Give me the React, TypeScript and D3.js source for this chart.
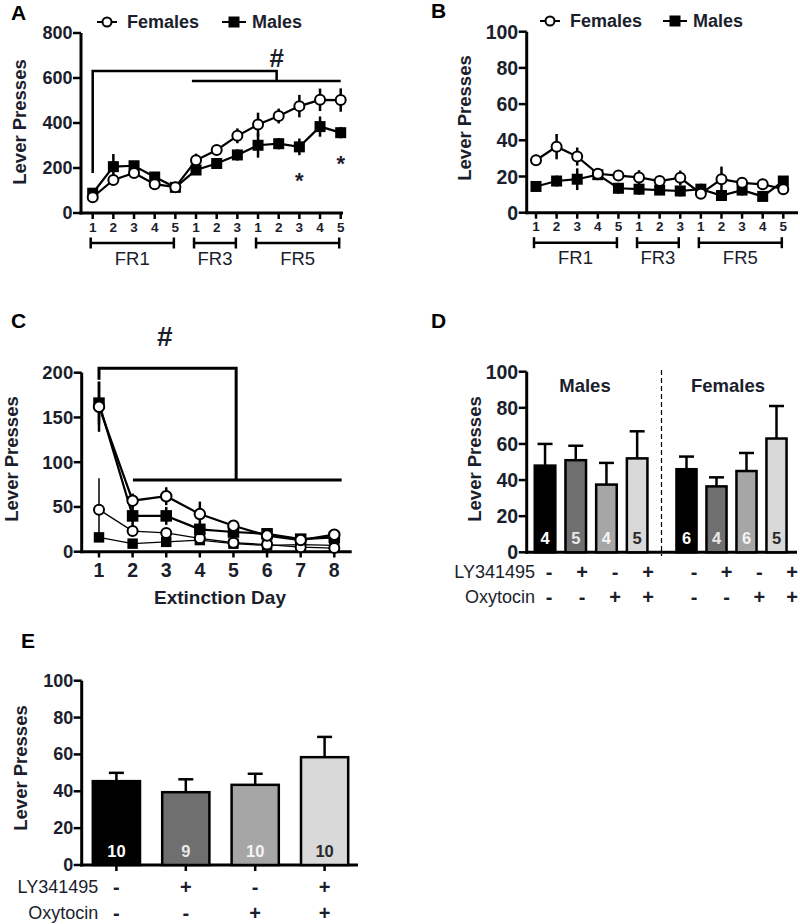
import React from 'react';
import * as d3 from 'd3';

const FONT = '"Liberation Sans", Arial, Helvetica, sans-serif';
const INK = '#1b1e2c';

// ---------- Panel A/B: acquisition sessions ----------
const sessionLabels = ['1', '2', '3', '4', '5', '1', '2', '3', '1', '2', '3', '4', '5'];
const scheduleNames = ['FR1', 'FR3', 'FR5'];
const scheduleFirst = [0, 5, 8];
const scheduleLast = [4, 7, 12];

const activeFemales = [70, 147, 178, 128, 115, 234, 280, 343, 393, 431, 475, 503, 502];
const activeFemalesErr = [15, 15, 20, 15, 12, 30, 20, 33, 53, 33, 50, 50, 52];
const activeMales = [88, 206, 210, 160, 114, 191, 220, 258, 301, 308, 294, 384, 357];
const activeMalesErr = [20, 56, 20, 20, 12, 20, 20, 25, 55, 25, 37, 45, 25];

const inactiveFemales = [29, 36.5, 31, 21.5, 20.5, 19.5, 17.5, 19.3, 10.5, 18.5, 16.5, 15.7, 13];
const inactiveFemalesErr = [3, 7, 5, 3, 2, 4, 2, 4, 2, 7, 3, 3, 3];
const inactiveMales = [14.5, 17.5, 18.5, 21, 13.5, 13, 12.5, 12, 13, 9.5, 12.5, 9, 17.5];
const inactiveMalesErr = [2, 3, 6, 3, 3, 3, 2, 3, 3, 2, 3, 2, 2];

const activeTicks = [0, 200, 400, 600, 800];
const pctTicks = [0, 20, 40, 60, 80, 100];

// ---------- Panel C: extinction ----------
const extinctionDays = [1, 2, 3, 4, 5, 6, 7, 8];
const extFemalesActive = [162, 57, 62, 42, 29, 18, 13, 19];
const extFemalesActiveErr = [28, 8, 10, 14, 5, 3, 3, 3];
const extMalesActive = [166, 40, 40, 25, 22, 20, 14, 16];
const extMalesActiveErr = [24, 12, 10, 6, 4, 3, 3, 3];
const extFemalesInactive = [47, 23, 21, 15, 10, 8, 5, 4];
const extFemalesInactiveErr = [35, 4, 4, 3, 2, 2, 2, 2];
const extMalesInactive = [16, 9, 11, 13, 9, 7, 8, 7];
const extMalesInactiveErr = [2, 2, 2, 4, 2, 2, 2, 2];
const extinctionTicks = [0, 50, 100, 150, 200];

// ---------- Panels D/E: reinstatement ----------
const lySigns = ['-', '+', '-', '+'];
const oxySigns = ['-', '-', '+', '+'];
const barFills = ['#000000', '#6f6f6f', '#a6a6a6', '#d9d9d9'];
const nColors = ['#ffffff', '#e8e8e8', '#f4f4f4', '#2a2a2a'];

const dMales = [48, 51, 37.5, 52];
const dMalesErr = [12, 8, 12, 15];
const dMalesN = ['4', '5', '4', '5'];
const dFemales = [46, 36.5, 45, 63];
const dFemalesErr = [7, 5, 10, 18];
const dFemalesN = ['6', '4', '6', '5'];

const eAll = [45.5, 39.5, 43.5, 58.5];
const eAllErr = [4.5, 7, 6, 11];
const eAllN = ['10', '9', '10', '10'];

type Scale = (v: number) => number;

function YAxis({ x, y, ticks, size = 17.5 }: { x: number; y: any; ticks: number[]; size?: number }) {
  const top = y(ticks[ticks.length - 1]);
  const bottom = y(ticks[0]);
  return (
    <g>
      <line x1={x} x2={x} y1={top} y2={bottom + 1.5} stroke="#000" strokeWidth={3} />
      {ticks.map((t) => (
        <g key={t}>
          <line x1={x - 8} x2={x} y1={y(t)} y2={y(t)} stroke="#000" strokeWidth={2.5} />
          <text x={x - 8.5} y={y(t)} textAnchor="end" dominantBaseline="central" fontSize={size}
            fontWeight="bold" fill={INK} fontFamily={FONT}>{t}</text>
        </g>
      ))}
    </g>
  );
}

function YLabel({ x, y, text = 'Lever Presses' }: { x: number; y: number; text?: string }) {
  return (
    <text transform={`translate(${x},${y}) rotate(-90)`} textAnchor="middle" dominantBaseline="central"
      fontSize={18.5} fontWeight="bold" fill={INK} fontFamily={FONT}>{text}</text>
  );
}

function PanelLetter({ x, y, t }: { x: number; y: number; t: string }) {
  return <text x={x} y={y} fontSize={21} fontWeight="bold" fill="#000" fontFamily={FONT}>{t}</text>;
}

function Circle({ cx, cy, r = 5 }: { cx: number; cy: number; r?: number }) {
  return <circle cx={cx} cy={cy} r={r} fill="#fff" stroke="#000" strokeWidth={2} />;
}
function Square({ cx, cy, s = 11 }: { cx: number; cy: number; s?: number }) {
  return <rect x={cx - s / 2} y={cy - s / 2} width={s} height={s} fill="#000" />;
}

function Series({ xs, vals, errs, x, y, kind, lw = 2.2, ebw = 2.5, msize = 1 }:
  { xs: number[]; vals: number[]; errs: number[]; x: Scale; y: Scale; kind: 'circle' | 'square'; lw?: number; ebw?: number; msize?: number }) {
  const pts: [number, number][] = vals.map((v, i) => [x(xs[i]), y(v)]);
  const path = d3.line()(pts) || '';
  return (
    <g>
      <path d={path} fill="none" stroke="#000" strokeWidth={lw} />
      {vals.map((v, i) => (
        <line key={'e' + i} x1={x(xs[i])} x2={x(xs[i])} y1={y(v - errs[i])} y2={y(v + errs[i])}
          stroke="#000" strokeWidth={ebw} />
      ))}
      {pts.map(([px, py], i) => kind === 'circle'
        ? <Circle key={i} cx={px} cy={py} r={5 * msize} />
        : <Square key={i} cx={px} cy={py} s={11 * msize} />)}
    </g>
  );
}

function SessionAxis({ x, y0, x0, x1 }: { x: Scale; y0: number; x0: number; x1: number }) {
  return (
    <g>
      <line x1={x0} x2={x1} y1={y0} y2={y0} stroke="#000" strokeWidth={3} />
      {sessionLabels.map((s, i) => (
        <g key={i}>
          <line x1={x(i)} x2={x(i)} y1={y0} y2={y0 + 6} stroke="#000" strokeWidth={2.5} />
          <text x={x(i)} y={y0 + 14} textAnchor="middle" dominantBaseline="central" fontSize={13.5}
            fontWeight="bold" fill={INK} fontFamily={FONT}>{s}</text>
        </g>
      ))}
      {scheduleNames.map((n, k) => {
        const a = x(scheduleFirst[k]) - 2;
        const b = x(scheduleLast[k]) - 1.5;
        const yy = y0 + 30;
        return (
          <g key={n}>
            <line x1={a} x2={b} y1={yy} y2={yy} stroke="#000" strokeWidth={2.5} />
            <line x1={a} x2={a} y1={yy - 5.5} y2={yy + 5.5} stroke="#000" strokeWidth={2.5} />
            <line x1={b} x2={b} y1={yy - 5.5} y2={yy + 5.5} stroke="#000" strokeWidth={2.5} />
            <text x={(a + b) / 2} y={yy + 15} textAnchor="middle" dominantBaseline="central" fontSize={18.5}
              fill={INK} fontFamily={FONT}>{n}</text>
          </g>
        );
      })}
    </g>
  );
}

function Legend({ xc, xs, y }: { xc: number; xs: number; y: number }) {
  return (
    <g>
      <line x1={xc - 10} x2={xc + 10} y1={y} y2={y} stroke="#000" strokeWidth={2} />
      <Circle cx={xc} cy={y} r={4.5} />
      <text x={xc + 20} y={y} dominantBaseline="central" fontSize={18} fontWeight="bold" fill={INK} fontFamily={FONT}>Females</text>
      <line x1={xs - 12} x2={xs + 12} y1={y} y2={y} stroke="#000" strokeWidth={2} />
      <Square cx={xs} cy={y} s={11} />
      <text x={xs + 18} y={y} dominantBaseline="central" fontSize={18} fontWeight="bold" fill={INK} fontFamily={FONT}>Males</text>
    </g>
  );
}

function Bars({ band, vals, errs, ns, y }: { band: any; vals: number[]; errs: number[]; ns: string[]; y: Scale }) {
  const bw = band.bandwidth();
  return (
    <g>
      {vals.map((v, i) => {
        const bx = band(i);
        const cx = bx + bw / 2;
        return (
          <g key={i}>
            <line x1={cx} x2={cx} y1={y(v)} y2={y(v + errs[i])} stroke="#000" strokeWidth={2.5} />
            <line x1={cx - 7.5} x2={cx + 7.5} y1={y(v + errs[i])} y2={y(v + errs[i])} stroke="#000" strokeWidth={2.5} />
            <rect x={bx} y={y(v)} width={bw} height={y(0) - y(v)} fill={barFills[i]} stroke="#000" strokeWidth={2.5} />
            <text x={cx} y={y(0) - 14} textAnchor="middle" dominantBaseline="central" fontSize={16.5}
              fontWeight="bold" fill={nColors[i]} fontFamily={FONT}>{ns[i]}</text>
          </g>
        );
      })}
    </g>
  );
}

function SignRows({ pos, labelX, yLy, yOxy, showLabels = true }: { pos: Scale; labelX: number; yLy: number; yOxy: number; showLabels?: boolean }) {
  return (
    <g fontFamily={FONT} fill={INK}>
      {showLabels && <text x={labelX} y={yLy} textAnchor="end" dominantBaseline="central" fontSize={18}>LY341495</text>}
      {showLabels && <text x={labelX} y={yOxy} textAnchor="end" dominantBaseline="central" fontSize={18}>Oxytocin</text>}
      {lySigns.map((s, i) => (
        <text key={'l' + i} x={pos(i)} y={yLy} textAnchor="middle" dominantBaseline="central" fontSize={20} fontWeight="bold">{s}</text>
      ))}
      {oxySigns.map((s, i) => (
        <text key={'o' + i} x={pos(i)} y={yOxy} textAnchor="middle" dominantBaseline="central" fontSize={20} fontWeight="bold">{s}</text>
      ))}
    </g>
  );
}

export default function App() {
  const idx = sessionLabels.map((_, i) => i);

  // Panel A
  const xA = d3.scaleLinear().domain([0, 12]).range([92.7, 340.7]);
  const yA = d3.scaleLinear().domain([0, 800]).range([213, 33]);
  // Panel B
  const xB = d3.scaleLinear().domain([0, 12]).range([536, 783.3]);
  const yB = d3.scaleLinear().domain([0, 100]).range([212.7, 31.7]);
  // Panel C
  const xC = d3.scaleLinear().domain([1, 8]).range([99, 334.3]);
  const yC = d3.scaleLinear().domain([0, 200]).range([551.7, 372.7]);
  // Panel D
  const yD = d3.scaleLinear().domain([0, 100]).range([552.3, 371.7]);
  const bandDM = d3.scaleBand<number>().domain([0, 1, 2, 3]).range([529.7, 652.5]).paddingInner(0.33).paddingOuter(0.165);
  const bandDF = d3.scaleBand<number>().domain([0, 1, 2, 3]).range([671.5, 791.5]).paddingInner(0.33).paddingOuter(0.165);
  const signDM = d3.scalePoint<number>().domain([0, 1, 2, 3]).range([549, 648]);
  const signDF = d3.scalePoint<number>().domain([0, 1, 2, 3]).range([694, 792]);
  // Panel E
  const yE = d3.scaleLinear().domain([0, 100]).range([865, 680.7]);
  const bandE = d3.scaleBand<number>().domain([0, 1, 2, 3]).range([81.7, 359.3]).paddingInner(0.32).paddingOuter(0.16);
  const centerE = (i: number) => (bandE(i) as number) + bandE.bandwidth() / 2;

  const line = (pts: [number, number][], w = 2.5) => (
    <path d={d3.line()(pts) || ''} fill="none" stroke="#000" strokeWidth={w} />
  );

  return (
    <svg width={800} height={924} style={{ display: 'block', position: 'absolute', left: 0, top: 0, background: '#fff' }}>
      <rect width={800} height={924} fill="#fff" />

      {/* ---------------- A ---------------- */}
      <PanelLetter x={11} y={20} t="A" />
      <Legend xc={107} xs={234} y={22} />
      <YLabel x={19.5} y={122} />
      <YAxis x={81} y={yA} ticks={activeTicks} size={18} />
      <SessionAxis x={xA} y0={213} x0={79.5} x1={343} />
      {/* significance brackets */}
      {line([[xA(0), yA(178)], [xA(0), yA(631)], [xA(8.9), yA(631)], [xA(8.9), yA(587)]])}
      {line([[xA(4.8), yA(587)], [xA(12), yA(587)]])}
      <text x={xA(8.9)} y={yA(689)} textAnchor="middle" dominantBaseline="central" fontSize={26} fontWeight="bold" fill={INK} fontFamily={FONT}>#</text>
      <Series xs={idx} vals={activeMales} errs={activeMalesErr} x={xA} y={yA} kind="square" />
      <Series xs={idx} vals={activeFemales} errs={activeFemalesErr} x={xA} y={yA} kind="circle" />
      <text x={xA(10)} y={yA(164) + 12} textAnchor="middle" fontSize={22} fontWeight="bold" fill={INK} fontFamily={FONT}>*</text>
      <text x={xA(12)} y={yA(240) + 12} textAnchor="middle" fontSize={22} fontWeight="bold" fill={INK} fontFamily={FONT}>*</text>

      {/* ---------------- B ---------------- */}
      <PanelLetter x={431} y={18} t="B" />
      <Legend xc={550} xs={675} y={21} />
      <YLabel x={464} y={118} />
      <YAxis x={526.7} y={yB} ticks={pctTicks} size={19.5} />
      <SessionAxis x={xB} y0={212.7} x0={525.2} x1={798} />
      <Series xs={idx} vals={inactiveMales} errs={inactiveMalesErr} x={xB} y={yB} kind="square" />
      <Series xs={idx} vals={inactiveFemales} errs={inactiveFemalesErr} x={xB} y={yB} kind="circle" />

      {/* ---------------- C ---------------- */}
      <PanelLetter x={11} y={328} t="C" />
      <YLabel x={11} y={459} />
      <YAxis x={81.7} y={yC} ticks={extinctionTicks} size={18.5} />
      <line x1={80.2} x2={351.7} y1={551.7} y2={551.7} stroke="#000" strokeWidth={3} />
      {extinctionDays.map((d) => (
        <g key={d}>
          <line x1={xC(d)} x2={xC(d)} y1={551.7} y2={557.5} stroke="#000" strokeWidth={2.5} />
          <text x={xC(d)} y={570} textAnchor="middle" dominantBaseline="central" fontSize={19.5} fontWeight="bold" fill={INK} fontFamily={FONT}>{d}</text>
        </g>
      ))}
      <text x={220} y={597} textAnchor="middle" dominantBaseline="central" fontSize={19} fontWeight="bold" fill={INK} fontFamily={FONT}>Extinction Day</text>
      {line([[xC(1), yC(192)], [xC(1), yC(205)], [xC(5.08), yC(205)], [xC(5.08), yC(80)]], 3)}
      {line([[xC(2.01), yC(80)], [xC(8.22), yC(80)]], 3)}
      <text x={xC(2.96)} y={yC(240)} textAnchor="middle" dominantBaseline="central" fontSize={28} fontWeight="bold" fill={INK} fontFamily={FONT}>#</text>
      <Series xs={extinctionDays} vals={extMalesInactive} errs={extMalesInactiveErr} x={xC} y={yC} kind="square" lw={1.3} ebw={1.5} msize={0.95} />
      <Series xs={extinctionDays} vals={extFemalesInactive} errs={extFemalesInactiveErr} x={xC} y={yC} kind="circle" lw={1.3} ebw={1.5} msize={1} />
      <Series xs={extinctionDays} vals={extMalesActive} errs={extMalesActiveErr} x={xC} y={yC} kind="square" lw={2.2} ebw={2.5} msize={1.05} />
      <Series xs={extinctionDays} vals={extFemalesActive} errs={extFemalesActiveErr} x={xC} y={yC} kind="circle" lw={2.2} ebw={2.5} msize={1.05} />

      {/* ---------------- D ---------------- */}
      <PanelLetter x={431} y={328} t="D" />
      <YLabel x={474.5} y={459} />
      <YAxis x={526.7} y={yD} ticks={pctTicks} size={19.5} />
      <line x1={525.2} x2={797} y1={552.3} y2={552.3} stroke="#000" strokeWidth={3} />
      <line x1={661.5} x2={661.5} y1={370} y2={556} stroke="#000" strokeWidth={1.2} strokeDasharray="5,3" />
      <text x={585} y={385} textAnchor="middle" dominantBaseline="central" fontSize={18.5} fontWeight="bold" fill={INK} fontFamily={FONT}>Males</text>
      <text x={728} y={385} textAnchor="middle" dominantBaseline="central" fontSize={18.5} fontWeight="bold" fill={INK} fontFamily={FONT}>Females</text>
      <Bars band={bandDM} vals={dMales} errs={dMalesErr} ns={dMalesN} y={yD} />
      <Bars band={bandDF} vals={dFemales} errs={dFemalesErr} ns={dFemalesN} y={yD} />
      <SignRows pos={(i) => signDM(i) as number} labelX={535} yLy={571.7} yOxy={596.7} />
      <SignRows pos={(i) => signDF(i) as number} labelX={535} yLy={571.7} yOxy={596.7} showLabels={false} />

      {/* ---------------- E ---------------- */}
      <PanelLetter x={21} y={648} t="E" />
      <YLabel x={20.5} y={768} />
      <YAxis x={81.7} y={yE} ticks={pctTicks} size={18} />
      <line x1={80.2} x2={358} y1={865} y2={865} stroke="#000" strokeWidth={3} />
      {eAll.map((_, i) => (
        <line key={i} x1={centerE(i)} x2={centerE(i)} y1={865} y2={871} stroke="#000" strokeWidth={2.5} />
      ))}
      <Bars band={bandE} vals={eAll} errs={eAllErr} ns={eAllN} y={yE} />
      <SignRows pos={centerE} labelX={98.3} yLy={886.7} yOxy={913.3} />
    </svg>
  );
}
